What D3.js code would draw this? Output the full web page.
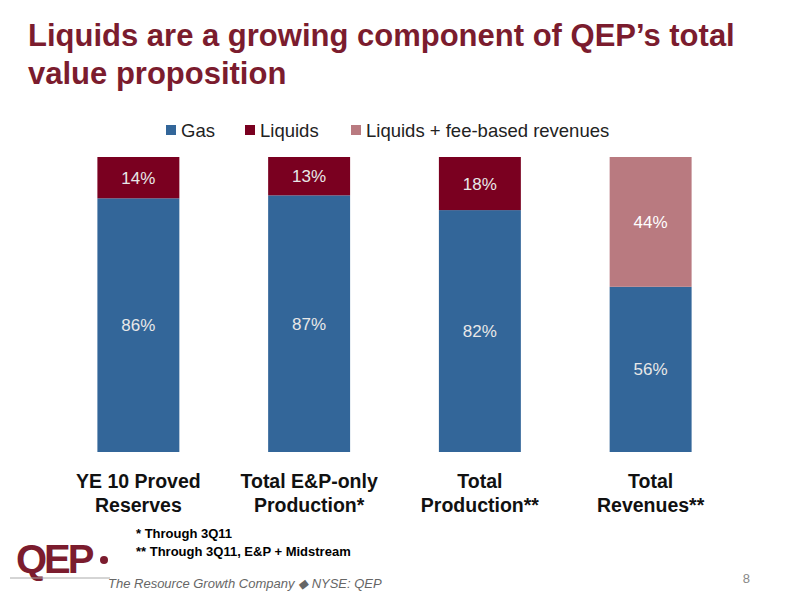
<!DOCTYPE html>
<html><head><meta charset="utf-8">
<script src="https://cdn.jsdelivr.net/npm/d3@7"></script>
<style>body{margin:0;background:#fff}</style></head>
<body><svg id="c" width="800" height="600"></svg>
<script>
const categories = [["YE 10 Proved","Reserves"],["Total E&P-only","Production*"],["Total","Production**"],["Total","Revenues**"]];
const gas = [86, 87, 82, 56];
const liquids = [14, 13, 18, 0];
const liquidsFee = [0, 0, 0, 44];
const seriesNames = ["Gas","Liquids","Liquids + fee-based revenues"];
const colors = ["#336699","#7a0020","#b97a80"];

const svg = d3.select("#c");
const F = "Liberation Sans, Arial, sans-serif";
const maroon = "#7b1c2e";
svg.append("text").attr("x",28).attr("y",46).attr("font-family",F).attr("font-weight","bold").attr("font-size",31).attr("fill",maroon).text("Liquids are a growing component of QEP’s total");
svg.append("text").attr("x",28).attr("y",84).attr("font-family",F).attr("font-weight","bold").attr("font-size",31).attr("fill",maroon).text("value proposition");

const x = d3.scaleBand().domain(d3.range(4)).range([53,736]).paddingInner(0.52).paddingOuter(0.26);
const y = d3.scaleLinear().domain([0,100]).range([452,157]);
const series = [gas, liquids, liquidsFee];
const textCol = ["#e8e8e8","#e8e8e8","#ffffff"];
series.forEach((s,si)=>{
  s.forEach((v,i)=>{
    if(!v) return;
    let base = 0; for(let k=0;k<si;k++) base += series[k][i];
    const y0 = y(base), y1 = y(base+v);
    svg.append("rect").attr("x",x(i)).attr("width",x.bandwidth()).attr("y",y1).attr("height",y0-y1).attr("fill",colors[si]);
    svg.append("text").attr("x",x(i)+x.bandwidth()/2).attr("y",(y0+y1)/2+6).attr("text-anchor","middle")
      .attr("font-family",F).attr("font-size",17).attr("fill",textCol[si]).text(v+"%");
  });
});
categories.forEach((c,i)=>{
  c.forEach((l,j)=>svg.append("text").attr("x",x(i)+x.bandwidth()/2).attr("y",488+j*24).attr("text-anchor","middle")
    .attr("font-family",F).attr("font-weight","bold").attr("font-size",19.5).attr("fill","#111").text(l));
});
// legend
const lx=[166,245,351];
seriesNames.forEach((n,i)=>{
  svg.append("rect").attr("x",lx[i]).attr("y",125).attr("width",10).attr("height",10).attr("fill",colors[i]);
  svg.append("text").attr("x",lx[i]+15).attr("y",137).attr("font-family",F).attr("font-size",18.5).attr("fill","#222").text(n);
});
// footnotes
svg.append("text").attr("x",136).attr("y",538).attr("font-family",F).attr("font-weight","bold").attr("font-size",13).text("*  Through 3Q11");
svg.append("text").attr("x",136).attr("y",556).attr("font-family",F).attr("font-weight","bold").attr("font-size",13).text("**  Through 3Q11, E&P + Midstream");
// logo
svg.append("text").attr("x",16).attr("y",573).attr("font-family",F).attr("font-weight","bold").attr("font-size",40).attr("fill",maroon).attr("letter-spacing",-3).text("QEP");
svg.append("circle").attr("cx",104).attr("cy",560).attr("r",4).attr("fill",maroon);
svg.append("line").attr("x1",10).attr("x2",110).attr("y1",578).attr("y2",578).attr("stroke","#aaa");
svg.append("text").attr("x",108).attr("y",588).attr("font-family",F).attr("font-style","italic").attr("font-size",13).attr("fill","#666").text("The Resource Growth Company ◆ NYSE: QEP");
svg.append("text").attr("x",750).attr("y",583).attr("text-anchor","end").attr("font-family",F).attr("font-size",13).attr("fill","#888").text("8");
</script></body></html>
